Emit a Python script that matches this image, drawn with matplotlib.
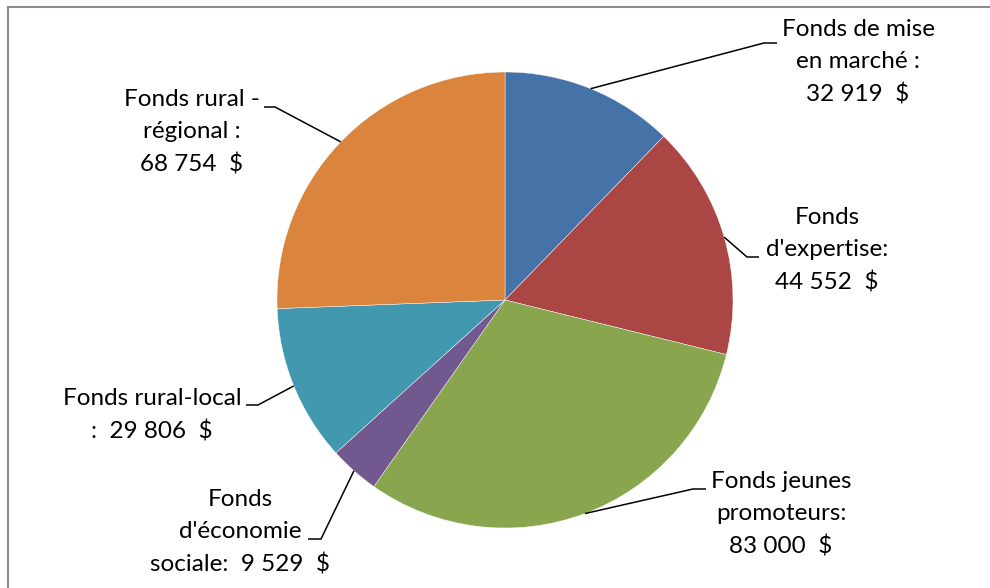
import matplotlib.pyplot as plt
import numpy as np

plt.rcParams['font.family'] = ['Lato', 'DejaVu Sans']

# donnees
values = [32919, 44552, 83000, 9529, 29806, 68754]
label_fmt = ["Fonds de mise\nen marché :\n{}",
             "Fonds\nd'expertise:\n{}",
             "Fonds jeunes\npromoteurs:\n{}",
             "Fonds\nd'économie\nsociale:  {}",
             "Fonds rural-local\n:  {}",
             "Fonds rural -\nrégional :\n{}"]
colors = ['#4572A7', '#AA4643', '#89A54E', '#71588F', '#4198AF', '#DB843D']

# mise en page (pixels, y vers le bas)
W, H = 990, 588
cx, cy, R = 505, 300, 228
elbows = [(764, 43), (747, 257), (693, 489), (321, 539), (258, 405), (275, 107)]
ends = [(777, 43), (759, 257), (706, 489), (308, 539), (246, 405), (264, 107)]
text_pos = [(858, 62), (827, 250), (781, 514), (240, 532), (152, 415), (192, 132)]


def fy(y):
    return H - y


def money(v):
    return "{:,}".format(v).replace(",", " ") + "  $"


fig = plt.figure(figsize=(W / 100, H / 100), dpi=100)
ax = fig.add_axes([0, 0, 1, 1])

wedges, _ = ax.pie(values, colors=colors, startangle=90, counterclock=False,
                   center=(cx, fy(cy)), radius=R,
                   wedgeprops=dict(edgecolor='white', linewidth=0.3))
ax.set_xlim(0, W)
ax.set_ylim(0, H)
ax.set_aspect('equal')
ax.axis('off')

total = float(sum(values))
cum = 0
for i, v in enumerate(values):
    mid = 90 - 360 * (cum + v / 2.0) / total
    cum += v
    px = cx + R * np.cos(np.radians(mid))
    py = cy - R * np.sin(np.radians(mid))
    ex, ey = elbows[i]
    tx, ty = ends[i]
    ax.plot([px, ex, tx], [fy(py), fy(ey), fy(ty)], color='black', lw=1.1,
            solid_capstyle='butt')
    ax.text(text_pos[i][0], fy(text_pos[i][1]), label_fmt[i].format(money(v)),
            ha='center', va='center', multialignment='center', fontsize=17.5,
            linespacing=1.65, color='black')

# cadre
fig.add_artist(plt.Line2D([8 / W, 1], [1 - 7 / H, 1 - 7 / H], color='#8c8c8c', lw=1.5))
fig.add_artist(plt.Line2D([8 / W, 8 / W], [0, 1 - 7 / H], color='#8c8c8c', lw=1.5))

fig.savefig('out.png', dpi=100)
